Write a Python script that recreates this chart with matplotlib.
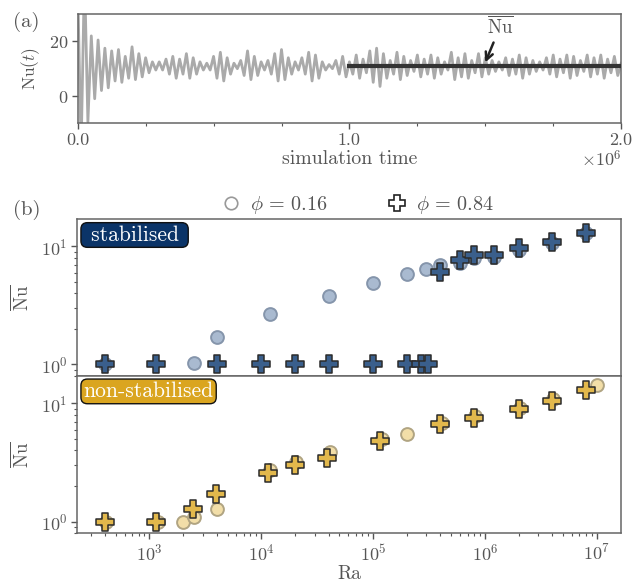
import matplotlib
matplotlib.use("Agg")
import matplotlib.pyplot as plt
from matplotlib.lines import Line2D
from matplotlib.ticker import MultipleLocator, NullFormatter
import numpy as np

plt.rcParams.update({
    "font.family": "serif",
    "font.serif": ["cmr10"],
    "mathtext.fontset": "cm",
    "axes.formatter.use_mathtext": True,
    "axes.unicode_minus": False,
    "font.size": 13,
    "text.color": "#555555",
    "axes.labelcolor": "#555555",
    "xtick.color": "#555555",
    "ytick.color": "#555555",
    "axes.edgecolor": "#666666",
})

# ---------------------------------------------------------------------------
# (a) Nu(t) time series, read as successive peaks / troughs
# ---------------------------------------------------------------------------
NU_EXT = [
    40, -20, 45, -9.5, 22, -1, 20.5, 2,
    17.5, 3, 16.5, 5.5, 17, 5, 14.5, 6.5,
    18, 6, 15.5, 7, 14, 8.5, 12.5, 9.5,
    12.5, 9.5, 13.5, 8, 14.5, 6.5, 13.5, 8,
    15.5, 6.5, 14, 8, 12.5, 9.5, 12, 9.5,
    14.5, 6.5, 16, 5.5, 14, 8, 12, 10,
    13, 7.5, 16.5, 6, 14.5, 7.5, 12.5, 9.5,
    13, 8, 15.5, 5.5, 17, 6, 14, 8,
    12.5, 9.5, 14, 8, 16, 5.5, 15, 6.5,
    12.5, 9.5, 11.5, 10, 13, 8, 14.5, 7,
    12.5, 8, 15, 6.5, 13.5, 8.5, 16.5, 5,
    17.5, 3.5, 15.5, 6.5, 13, 8, 16, 6,
    14.5, 7.5, 13, 9, 15, 7, 13.5, 8,
    15, 6.5, 14, 8, 12.5, 9.5, 16, 6,
    14, 7, 15.5, 6.5, 13, 8.5, 15.5, 7,
    14, 8, 13, 9, 12.5, 9.5, 14, 7.5,
    13.5, 8, 15, 6.5, 14, 8, 13, 9,
    12.5, 9.5, 14, 8, 15, 7, 13.5, 8.5,
    15, 6.5, 14.5, 7.5, 13, 9, 15, 7,
    14, 8, 15, 6.5, 13.5, 8.5, 14.5, 7.5, 12,
]
T_EXT = np.linspace(0, 2e6, len(NU_EXT))
T_MEAN = [1.0e6, 2.0e6]
NU_MEAN = 11.0

# ---------------------------------------------------------------------------
# (b) mean Nu vs Ra
# ---------------------------------------------------------------------------
# stabilised
RA_S_016 = [4e2, 2.5e3, 4e3, 1.2e4, 4e4, 1e5, 2e5, 3e5, 4e5, 6e5, 8e5, 1.2e6, 2e6, 4e6, 8e6]
NU_S_016 = [1.0, 1.03, 1.70, 2.68, 3.78, 4.9, 5.87, 6.48, 7.0, 7.2, 7.95, 8.2, 9.3, 10.7, 12.9]
RA_S_084 = [4e2, 1.15e3, 4e3, 1e4, 2e4, 4e4, 1e5, 2e5, 2.7e5, 3.1e5,
            4e5, 6e5, 8e5, 1.2e6, 2e6, 4e6, 8e6]
NU_S_084 = [1.0, 1.0, 1.0, 1.0, 1.0, 1.0, 1.0, 1.0, 1.0, 1.0,
            6.04, 7.7, 8.5, 8.5, 9.7, 11.0, 13.1]

# non-stabilised
RA_N_016 = [4.1e2, 1.2e3, 2e3, 2.5e3, 4e3, 1.2e4, 2.05e4, 4.1e4, 1.2e5, 2e5, 4.1e5, 8.1e5, 2.05e6, 4.1e6, 1e7]
NU_N_016 = [1.0, 1.0, 1.0, 1.1, 1.27, 2.73, 3.2, 3.9, 4.96, 5.47, 6.8, 7.8, 9.1, 10.8, 14.3]
RA_N_084 = [4e2, 1.15e3, 2.45e3, 3.9e3, 1.15e4, 2e4, 3.9e4, 1.15e5, 4e5, 8e5, 2e6, 4e6, 8e6]
NU_N_084 = [1.0, 1.0, 1.27, 1.73, 2.56, 3.01, 3.43, 4.83, 6.64, 7.56, 8.9, 10.5, 12.9]

BLUE_BOX, BLUE_P, BLUE_O, BLUE_OE = "#0b3468", "#3a5f8c", "#a9bad0", "#8595ab"
GOLD_BOX, GOLD_P, GOLD_O, GOLD_OE = "#daa520", "#e2b84c", "#f2dea8", "#b0a482"

fig = plt.figure(figsize=(6.39, 5.82), dpi=100)
ax_a = fig.add_axes([0.1216, 0.7881, 0.8505, 0.1878])
ax_t = fig.add_axes([0.1205, 0.3545, 0.8513, 0.2687])
ax_b = fig.add_axes([0.1205, 0.0837, 0.8513, 0.2703], sharex=ax_t)

# ---- panel (a)
ax_a.plot(T_EXT, NU_EXT, color="#aaaaaa", lw=2.0, zorder=2)
ax_a.plot(T_MEAN, [NU_MEAN, NU_MEAN], color="#333333", lw=3.0, zorder=3)
ax_a.annotate(r"$\overline{\mathrm{Nu}}$", xy=(1.5e6, 12.3), xytext=(1.555e6, 25.5),
              ha="center", va="center", fontsize=13.5,
              arrowprops=dict(arrowstyle="->", color="#222222", lw=1.8,
                              shrinkA=2, shrinkB=0))
ax_a.set_xlim(0, 2e6)
ax_a.set_ylim(-10, 30)
ax_a.set_xticks([0, 1e6, 2e6])
ax_a.set_xticklabels(["0.0", "1.0", "2.0"])
ax_a.xaxis.set_minor_locator(MultipleLocator(0.25e6))
ax_a.set_yticks([0, 20])
ax_a.set_xlabel("simulation time", labelpad=1, fontsize=14.3)
ax_a.set_ylabel(r"$\mathrm{Nu}(t)$", labelpad=5, fontsize=12.5)
ax_a.text(1.0, -0.235, r"$\times10^{6}$", transform=ax_a.transAxes,
          ha="right", va="top", fontsize=13)

# ---- panel (b)
for ax, ra_o, nu_o, ra_p, nu_p, co, coe, cp in [
    (ax_t, RA_S_016, NU_S_016, RA_S_084, NU_S_084, BLUE_O, BLUE_OE, BLUE_P),
    (ax_b, RA_N_016, NU_N_016, RA_N_084, NU_N_084, GOLD_O, GOLD_OE, GOLD_P),
]:
    ax.scatter(ra_o, nu_o, s=85, c=co, edgecolors=coe, linewidths=1.4, zorder=2)
    ax.scatter(ra_p, nu_p, s=160, marker="P", c=cp, edgecolors="#2b2b2b",
               linewidths=1.1, zorder=3)
    ax.set_xscale("log")
    ax.set_yscale("log")
    ax.set_ylim(0.8, 17)
    ax.yaxis.set_minor_formatter(NullFormatter())
    ax.set_ylabel(r"$\overline{\mathrm{Nu}}$", labelpad=6, fontsize=13.5)

ax_t.set_xlim(225, 1.65e7)
ax_b.xaxis.set_minor_formatter(NullFormatter())
ax_t.tick_params(axis="x", which="both", bottom=False, labelbottom=False)
ax_b.set_xlabel("Ra", labelpad=1, fontsize=14)

for ax in (ax_a, ax_t, ax_b):
    ax.tick_params(which="major", direction="out", length=4, width=1, pad=3)
    ax.tick_params(which="minor", direction="out", length=2.5, width=0.8)
    for s in ax.spines.values():
        s.set_linewidth(1.1)

box_kw = dict(boxstyle="round,pad=0.12,rounding_size=0.3", ec="#111111", lw=1.0)
ax_t.text(0.012, 0.962, " stabilised ", transform=ax_t.transAxes, color="white",
          ha="left", va="top", fontsize=15.5, bbox=dict(fc=BLUE_BOX, **box_kw), zorder=5)
ax_b.text(0.012, 0.964, "non-stabilised", transform=ax_b.transAxes, color="white",
          ha="left", va="top", fontsize=15.5, bbox=dict(fc=GOLD_BOX, **box_kw), zorder=5)

handles = [
    Line2D([], [], ls="", marker="o", ms=9, mfc="white", mec="#999999", mew=1.2),
    Line2D([], [], ls="", marker="P", ms=12, mfc="white", mec="#222222", mew=1.2),
]
ax_t.legend(handles, [r"$\phi\,=\,0.16$", r"$\phi\,=\,0.84$"], ncol=2, frameon=False,
            loc="lower center", bbox_to_anchor=(0.515, 0.97), columnspacing=2.95,
            handlelength=1.0, handletextpad=0.45, fontsize=14.5, borderaxespad=0.0)

fig.text(13 / 639, 1 - 12 / 582, "(a)", ha="left", va="top", fontsize=15)
fig.text(13 / 639, 1 - 200 / 582, "(b)", ha="left", va="top", fontsize=15)

fig.savefig("out.png", dpi=100, facecolor="white")
